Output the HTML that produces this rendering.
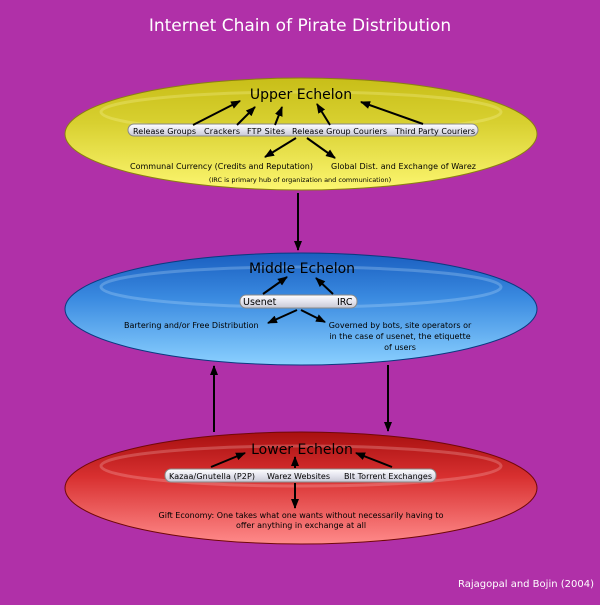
<!DOCTYPE html>
<html><head><style>body{margin:0;background:#b030a8}</style></head><body>
<svg width="600" height="600" xmlns="http://www.w3.org/2000/svg" font-family="'DejaVu Sans','Liberation Sans',sans-serif">
<defs>
<linearGradient id="ly" x1="0" y1="0" x2="0" y2="1"><stop offset="0" stop-color="#c8be18"/><stop offset="0.4" stop-color="#d8d030"/><stop offset="1" stop-color="#fcf670"/></linearGradient>
<linearGradient id="lb" x1="0" y1="0" x2="0" y2="1"><stop offset="0" stop-color="#1a5fc0"/><stop offset="0.4" stop-color="#3a8ae0"/><stop offset="1" stop-color="#8ad0ff"/></linearGradient>
<linearGradient id="lr" x1="0" y1="0" x2="0" y2="1"><stop offset="0" stop-color="#a81010"/><stop offset="0.4" stop-color="#d83030"/><stop offset="1" stop-color="#ff8a8a"/></linearGradient>
<linearGradient id="pill" x1="0" y1="0" x2="0" y2="1"><stop offset="0" stop-color="#ffffff"/><stop offset="0.5" stop-color="#e4e4ee"/><stop offset="1" stop-color="#c8c8d4"/></linearGradient>
<marker id="a" markerWidth="10" markerHeight="8" refX="9" refY="4" orient="auto" markerUnits="userSpaceOnUse"><path d="M0,0 L10,4 L0,8 z" fill="#000"/></marker>
</defs>
<text x="300" y="31" text-anchor="middle" fill="#fff" font-size="17">Internet Chain of Pirate Distribution</text>

<ellipse cx="301" cy="134" rx="236" ry="56" fill="url(#ly)" stroke="#8a8010" stroke-width="1"/>
<ellipse cx="301" cy="112" rx="200" ry="20" fill="none" stroke="#fffbb0" stroke-opacity="0.25" stroke-width="3"/>
<ellipse cx="301" cy="309" rx="236" ry="56" fill="url(#lb)" stroke="#0a3a80" stroke-width="1"/>
<ellipse cx="301" cy="287" rx="200" ry="20" fill="none" stroke="#d0ecff" stroke-opacity="0.25" stroke-width="3"/>
<ellipse cx="301" cy="488" rx="236" ry="56" fill="url(#lr)" stroke="#700808" stroke-width="1"/>
<ellipse cx="301" cy="466" rx="200" ry="20" fill="none" stroke="#ffd0d0" stroke-opacity="0.25" stroke-width="3"/>

<rect x="128" y="124" width="350" height="12" rx="6" fill="url(#pill)" stroke="#888"/>
<rect x="240" y="295" width="117" height="13" rx="6" fill="url(#pill)" stroke="#888"/>
<rect x="165" y="469" width="271" height="13" rx="6" fill="url(#pill)" stroke="#888"/>

<g fill="#000">
<text x="301" y="99" text-anchor="middle" font-size="14">Upper Echelon</text>
<g font-size="8"><text x="133" y="134" textLength="63">Release Groups</text><text x="204" y="134" textLength="36">Crackers</text><text x="247" y="134" textLength="38">FTP Sites</text><text x="292" y="134" textLength="95">Release Group Couriers</text><text x="395" y="134" textLength="80">Third Party Couriers</text></g>
<g font-size="8"><text x="130" y="169" textLength="183">Communal Currency (Credits and Reputation)</text><text x="331" y="169" textLength="145">Global Dist. and Exchange of Warez</text></g>
<text x="300" y="182" text-anchor="middle" font-size="6.5">(IRC is primary hub of organization and communication)</text>

<text x="302" y="273" text-anchor="middle" font-size="14">Middle Echelon</text>
<text x="243" y="305" font-size="9.5">Usenet</text><text x="337" y="305" font-size="9.5">IRC</text>
<text x="124" y="328" font-size="8">Bartering and/or Free Distribution</text>
<g font-size="8" text-anchor="middle"><text x="400" y="328">Governed by bots, site operators or</text><text x="400" y="339">in the case of usenet, the etiquette</text><text x="400" y="350">of users</text></g>

<text x="302" y="454" text-anchor="middle" font-size="14">Lower Echelon</text>
<g font-size="8"><text x="169" y="479" textLength="86">Kazaa/Gnutella (P2P)</text><text x="267" y="479" textLength="63">Warez Websites</text><text x="344" y="479" textLength="88">Blt Torrent Exchanges</text></g>
<g font-size="8" text-anchor="middle"><text x="301" y="518">Gift Economy: One takes what one wants without necessarily having to</text><text x="301" y="528">offer anything in exchange at all</text></g>
<text x="594" y="587" text-anchor="end" font-size="10" fill="#fff">Rajagopal and Bojin (2004)</text>
</g>

<g stroke="#000" stroke-width="2" marker-end="url(#a)">
<line x1="193" y1="125" x2="240" y2="101"/>
<line x1="237" y1="125" x2="255" y2="107"/>
<line x1="275" y1="125" x2="282" y2="107"/>
<line x1="330" y1="125" x2="317" y2="104"/>
<line x1="423" y1="124" x2="361" y2="102"/>
<line x1="296" y1="138" x2="265" y2="157"/>
<line x1="307" y1="138" x2="335" y2="158"/>
<line x1="263" y1="294" x2="287" y2="277"/>
<line x1="333" y1="294" x2="316" y2="278"/>
<line x1="297" y1="310" x2="268" y2="323"/>
<line x1="301" y1="310" x2="325" y2="322"/>
<line x1="211" y1="467" x2="245" y2="453"/>
<line x1="295" y1="468" x2="295" y2="457"/>
<line x1="392" y1="467" x2="356" y2="453"/>
<line x1="295" y1="483" x2="295" y2="508"/>
<line x1="298" y1="193" x2="298" y2="250"/>
<line x1="388" y1="365" x2="388" y2="431"/>
<line x1="214" y1="432" x2="214" y2="366"/>
</g>
</svg>
</body></html>
